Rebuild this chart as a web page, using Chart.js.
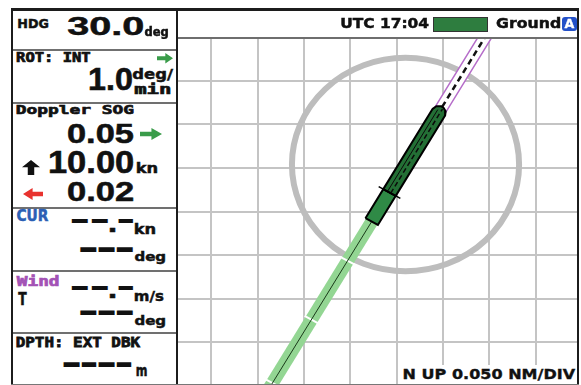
<!DOCTYPE html>
<html><head><meta charset="utf-8">
<script src="https://cdn.jsdelivr.net/npm/chart.js@4.4.1/dist/chart.umd.min.js"></script>
<style>
html,body{margin:0;padding:0;background:#fff;}
#root{position:relative;width:581px;height:385px;overflow:hidden;background:#fff;}
#plot{position:absolute;left:178px;top:38px;}
</style></head><body><div id="root"><canvas id="plot" width="400" height="347"></canvas></div>
<script>
// ---------------- data (units: grid divisions, 1 div = 0.050 NM) ----------------
const gridX = [-4, -3, -2, -1, 0, 1, 2, 3];
const gridY = [-4, -3, -2, -1, 0, 1, 2];
const xRange = [-4.718, 3.911];
const yRange = [-4.983, 2.985];
const circleCenter = [0.19, 0.08];
const circleRadius = 2.45;
const shipStern = [-0.54, -1.23];
const headingDeg = 30.0;
const shipLength = 3.04;
const shipBeam = 0.31;
const pivotFromStern = 0.77;
const predictedLength = 2.3;
const predictedBeam = 0.26;
const wakeLength = 4.7;
const wakeTicks = [1.04, 2.6, 4.28];

// ---------------- panel text values ----------------
const hdgValue = "30.0";
const rotValue = "1.0";
const sogBow = "0.05";
const sogAhead = "10.00";
const sogStern = "0.02";
const utcTime = "17:04";
const rangeScale = "0.050";

// ---------------- helpers ----------------
const root = document.getElementById('root');
const mctx = document.createElement('canvas').getContext('2d');
const SANS = '"DejaVu Sans"', MONO = '"DejaVu Sans Mono"', NUM = '"Liberation Sans"';
function fitText(txt, x0, y0, x1, y1, family, color, stroke) {
  const F = 100;
  const font = `bold ${F}px ${family || SANS}`;
  mctx.font = font;
  const m = mctx.measureText(txt);
  const inkL = -m.actualBoundingBoxLeft, inkR = m.actualBoundingBoxRight;
  const asc = m.actualBoundingBoxAscent, desc = m.actualBoundingBoxDescent;
  const fa = m.fontBoundingBoxAscent || 0.928 * F, fd = m.fontBoundingBoxDescent || 0.236 * F;
  const sx = (x1 - x0) / (inkR - inkL), sy = (y1 - y0) / (asc + desc);
  const b = (F + fa - fd) / 2;
  const sw = (stroke === undefined ? 0.5 : stroke) / ((sx + sy) / 2);
  const el = document.createElement('div');
  el.textContent = txt;
  el.style.cssText = `position:absolute;left:0;top:0;white-space:pre;font:${font};line-height:${F}px;color:${color || '#111'};transform-origin:0 0;-webkit-text-stroke:${sw}px ${color || '#111'};`;
  el.style.transform = `translate(${x0 - inkL * sx}px,${y0 - (b - asc) * sy}px) scale(${sx},${sy})`;
  root.appendChild(el);
}
function rect(x, y, w, h, bg, extra) {
  const d = document.createElement('div');
  d.style.cssText = `position:absolute;left:${x}px;top:${y}px;width:${w}px;height:${h}px;background:${bg};${extra || ''}`;
  root.appendChild(d);
  return d;
}
function arrow(x0, y0, x1, y1, dir, color) {
  const polys = {
    right: '0 32%,52% 32%,52% 0,100% 50%,52% 100%,52% 68%,0 68%',
    left: '100% 32%,48% 32%,48% 0,0 50%,48% 100%,48% 68%,100% 68%',
    up: '32% 100%,32% 48%,0 48%,50% 0,100% 48%,68% 48%,68% 100%'
  };
  rect(x0, y0, x1 - x0, y1 - y0, color, `clip-path:polygon(${polys[dir]});`);
}
function dashes(list, y0, y1) { list.forEach(([a, b]) => fitText('-', a, y0, b, y1, SANS, '#111', 0)); }

// ---------------- chart ----------------
const th = headingDeg * Math.PI / 180;
const u = [Math.sin(th), Math.cos(th)];
const nv = [Math.cos(th), -Math.sin(th)];
const at = (d, o) => ({ x: shipStern[0] + u[0] * d + nv[0] * o, y: shipStern[1] + u[1] * d + nv[1] * o });
const hb = shipBeam / 2, pb = predictedBeam / 2, L = shipLength, Pv = pivotFromStern;

function ds(points, o) {
  return Object.assign({ data: points, showLine: true, pointRadius: 0, pointHoverRadius: 0,
    borderColor: '#000', borderWidth: 1, fill: false, backgroundColor: 'transparent',
    borderCapStyle: 'butt', borderJoinStyle: 'miter' }, o);
}
const layers = []; // bottom -> top
layers.push(ds([at(L - 0.3, -pb), at(L + predictedLength, -pb), at(L + predictedLength, pb), at(L - 0.3, pb), at(L - 0.3, -pb)],
  { borderColor: '#b56cc9', borderWidth: 1.5, fill: 'shape', backgroundColor: '#ffffff' }));
layers.push(ds([at(L, 0), at(L + predictedLength, 0)], { borderColor: '#111', borderWidth: 2.5, borderDash: [6, 4] }));
layers.push(ds([at(0, 0), at(-wakeLength, 0)], { borderColor: '#93d693', borderWidth: 13 }));
wakeTicks.forEach(d => layers.push(ds([at(-d, -hb * 1.1), at(-d, hb * 1.1)], { borderColor: '#ffffff', borderWidth: 2 })));
layers.push(ds([at(0, 0), at(-wakeLength, 0)], { borderColor: '#1a3a1a', borderWidth: 1 }));
layers.push(ds([at(0, -hb), at(Pv, -hb), at(Pv, hb), at(0, hb), at(0, -hb)],
  { borderColor: '#000', borderWidth: 2, fill: 'shape', backgroundColor: '#2f8a46' }));
layers.push(ds([at(Pv, -hb), at(L - 0.14, -hb), at(L - 0.05, -hb * 0.75), at(L, -hb * 0.2), at(L, hb * 0.2), at(L - 0.05, hb * 0.75), at(L - 0.14, hb), at(Pv, hb), at(Pv, -hb)],
  { borderColor: '#000', borderWidth: 2, fill: 'shape', backgroundColor: '#236f35', borderJoinStyle: 'round' }));
layers.push(ds([at(Pv, -0.05), at(L - 0.1, -0.05)], { borderColor: '#0a0a0a', borderWidth: 1 }));
layers.push(ds([at(Pv, 0.03), at(L - 0.04, 0.03)], { borderColor: '#0a0a0a', borderWidth: 1.5, borderDash: [5, 3] }));
layers.push(ds([at(Pv, -0.27), at(Pv, 0.27)], { borderColor: '#000', borderWidth: 1.5 }));

const circlePlugin = {
  id: 'rangeCircle',
  beforeDatasetsDraw(chart) {
    const { ctx, scales: { x, y } } = chart;
    const cx = x.getPixelForValue(circleCenter[0]), cy = y.getPixelForValue(circleCenter[1]);
    const rx = Math.abs(x.getPixelForValue(circleCenter[0] + circleRadius) - cx);
    const ry = Math.abs(y.getPixelForValue(circleCenter[1] + circleRadius) - cy);
    ctx.save();
    ctx.beginPath();
    ctx.ellipse(cx, cy, rx, ry, 0, 0, Math.PI * 2);
    ctx.strokeStyle = '#bdbdbd';
    ctx.lineWidth = 6;
    ctx.stroke();
    ctx.restore();
  }
};

new Chart(document.getElementById('plot'), {
  type: 'scatter',
  data: { datasets: layers.slice().reverse() },
  options: {
    responsive: false, animation: false, events: [],
    layout: { padding: 0 },
    plugins: { legend: { display: false }, tooltip: { enabled: false } },
    scales: {
      x: { type: 'linear', min: xRange[0], max: xRange[1], ticks: { display: false },
        grid: { color: '#c4c4c4', lineWidth: 2, drawTicks: false }, border: { display: false },
        afterBuildTicks: s => { s.ticks = gridX.map(v => ({ value: v })); } },
      y: { type: 'linear', min: yRange[0], max: yRange[1], ticks: { display: false },
        grid: { color: '#c4c4c4', lineWidth: 2, drawTicks: false }, border: { display: false },
        afterBuildTicks: s => { s.ticks = gridY.map(v => ({ value: v })); } }
    }
  },
  plugins: [circlePlugin]
});

// ---------------- frame ----------------
rect(11, 8, 568, 3, '#1c1c1c');
rect(11, 8, 2, 377, '#1c1c1c');
rect(577, 8, 2, 377, '#1c1c1c');
rect(176, 8, 2, 377, '#1c1c1c');
rect(178, 37, 399, 2, '#6e6e6e');
[48.5, 101.5, 206.5, 270, 331.5].forEach(y => rect(13, y, 163, 2, '#707070'));
rect(11, 383.5, 568, 1.5, '#777');

// ---------------- left panel ----------------
fitText("HDG", 18.5, 19, 48, 28.5, SANS);
fitText(hdgValue, 68, 17, 143, 35, NUM, '#111', 0.6);
fitText("deg", 145, 26.7, 168, 38.3, SANS);
fitText("ROT: INT", 17, 51.7, 90, 61.7, MONO, '#111', 0.8);
arrow(157, 53, 173, 63.5, 'right', '#3a9c4a');
fitText(rotValue, 90, 68.3, 131.7, 90, NUM, '#111', 0.6);
fitText("deg/", 133, 68.3, 173, 81.7, SANS);
fitText("min", 135, 83.3, 170, 94, MONO, '#111', 0.8);
fitText("Doppler SOG", 16.7, 104, 133.3, 116.7, MONO, '#111', 0.8);
fitText(sogBow, 68, 124, 133, 143.3, NUM, '#111', 0.6);
arrow(140, 128, 162, 140, 'right', '#3a9c4a');
arrow(22, 160, 40, 175, 'up', '#111');
fitText(sogAhead, 50, 151.7, 133, 173.3, NUM, '#111', 0.6);
fitText("kn", 137, 163, 157, 173.3, SANS);
arrow(23, 188, 43, 200, 'left', '#e8322e');
fitText(sogStern, 68, 181.7, 133, 201.7, NUM, '#111', 0.6);

fitText("CUR", 17, 210, 48, 221.7, SANS, '#2b5fb5');
dashes([[71.7, 88.3], [91.7, 108.3]], 219, 223.3);
fitText(".", 110, 227.7, 115, 231.7, SANS);
dashes([[118.3, 133.3]], 219, 223.3);
fitText("kn", 135, 223.3, 155, 234.3, SANS);
dashes([[80, 96.7], [98.3, 115], [116.7, 133.3]], 246.7, 251.7);
fitText("deg", 135, 251.7, 165, 264.3, SANS);

fitText("Wind", 16.7, 275, 58.3, 286.7, MONO, '#a352b5', 0.8);
fitText("T", 18.3, 292.3, 26.7, 305, SANS);
dashes([[71.7, 88.3], [91.7, 108.3]], 285.7, 290);
fitText(".", 110, 294.3, 115, 298.3, SANS);
dashes([[118.3, 133.3]], 285.7, 290);
fitText("m/s", 135, 290, 163.3, 302, SANS);
dashes([[80, 96.7], [98.3, 115], [116.7, 133.3]], 311, 315.7);
fitText("deg", 135, 315, 165, 327.7, SANS);

fitText("DPTH: EXT DBK", 16.7, 337.3, 140, 347.7, MONO, '#111', 0.8);
dashes([[63.3, 80], [81.7, 96.7], [98.3, 115], [116.7, 131.7]], 361.7, 366.7);
fitText("m", 136.7, 367.3, 146.7, 375.7, SANS);

// ---------------- header ----------------
fitText("UTC " + utcTime, 341.7, 17.3, 428.3, 28.3, SANS);
rect(433.3, 16.7, 55, 15.6, '#2e7d3f', 'box-sizing:border-box;border:1px solid #333;');
fitText("Ground", 496.7, 17.3, 560, 28.3, SANS);
rect(561.7, 16.7, 15.6, 14, '#2350c8', 'border-radius:3px;');
fitText("A", 564.6, 19, 574.4, 28.5, SANS, '#ffffff', 0.3);

// ---------------- bottom scale label ----------------
rect(400, 365, 177, 18.5, '#ffffff');
fitText("N UP " + rangeScale + " NM/DIV", 404, 369.3, 575, 380.7, SANS, '#111', 0.4);
</script></body></html>
